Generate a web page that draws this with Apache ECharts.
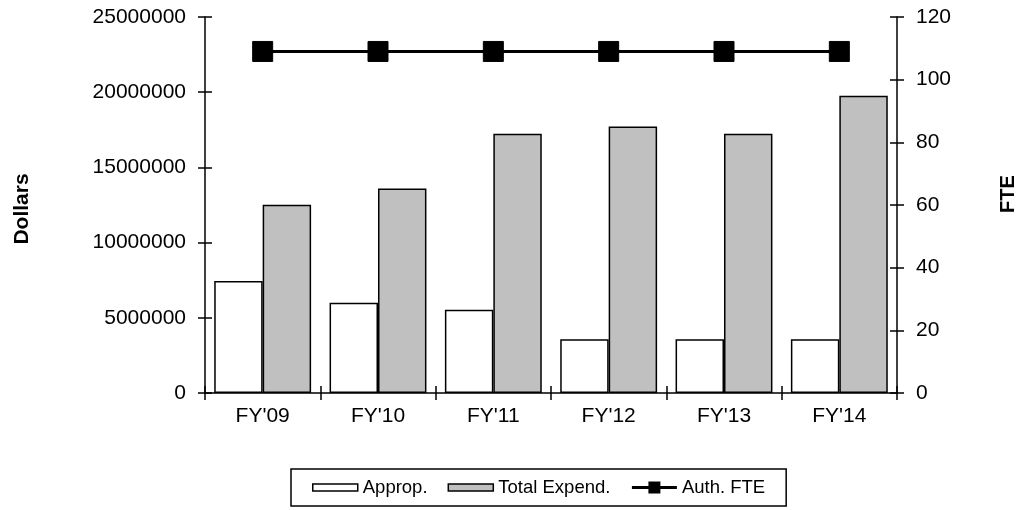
<!DOCTYPE html>
<html>
<head>
<meta charset="utf-8">
<script src="https://cdn.jsdelivr.net/npm/echarts@6/dist/echarts.min.js"></script>
<style>
html,body{margin:0;padding:0;background:#fff;}
#chart{width:1021px;height:510px;}
</style>
</head>
<body>
<div id="chart"></div>
<script>
const categories = ["FY'09", "FY'10", "FY'11", "FY'12", "FY'13", "FY'14"];
const approp = [7450000, 6000000, 5530000, 3580000, 3580000, 3580000];
const totalExpend = [12520000, 13600000, 17230000, 17720000, 17230000, 19770000];
const authFTE = [109, 109, 109, 109, 109, 109];
const dollarAxis = {min: 0, max: 25000000, interval: 5000000};
const fteAxis = {min: 0, max: 120, interval: 20};

const FONT = 'Liberation Sans, Arial, sans-serif';
const chart = echarts.init(document.getElementById('chart'), null, {renderer: 'canvas'});

const grid = {left: 205, right: 124, top: 17, bottom: 117};
const barIcon = 'path://M0,0M0,4h45v7h-45zM45,15';

const tickOut = {show: true, inside: false, length: 7, lineStyle: {color: '#000', width: 1.5}};
const tickIn = {show: true, inside: true, length: 7, lineStyle: {color: '#000', width: 1.5}};

chart.setOption({
  backgroundColor: '#fff',
  animation: false,
  grid: grid,
  legend: {
    left: 291, top: 469,
    padding: [9, 21, 9, 21],
    itemGap: 20,
    itemWidth: 45, itemHeight: 15,
    borderColor: '#000', borderWidth: 1.5,
    textStyle: {fontFamily: FONT, fontSize: 18.5, color: '#000'},
    data: [
      {name: 'Approp.', icon: barIcon, itemStyle: {color: '#fff', borderColor: '#000', borderWidth: 1.5}},
      {name: 'Total Expend.', icon: barIcon, itemStyle: {color: '#c0c0c0', borderColor: '#000', borderWidth: 1.5}},
      {name: 'Auth. FTE', lineStyle: {color: '#000', width: 3}}
    ]
  },
  xAxis: [{
    type: 'category', data: categories, position: 'bottom',
    axisLine: {show: true, lineStyle: {color: '#000', width: 1.5}},
    axisTick: tickOut,
    axisLabel: {fontFamily: FONT, fontSize: 21, color: '#000', margin: 13},
    splitLine: {show: false}
  }, {
    type: 'category', data: categories, position: 'bottom',
    axisLine: {show: false}, axisTick: tickIn, axisLabel: {show: false}, splitLine: {show: false}
  }],
  yAxis: [{
    type: 'value', position: 'left', min: dollarAxis.min, max: dollarAxis.max, interval: dollarAxis.interval,
    axisLine: {show: true, lineStyle: {color: '#000', width: 1.5}},
    axisTick: tickOut,
    axisLabel: {fontFamily: FONT, fontSize: 21, color: '#000', margin: 19, formatter: v => String(v)},
    splitLine: {show: false}
  }, {
    type: 'value', position: 'right', min: fteAxis.min, max: fteAxis.max, interval: fteAxis.interval,
    axisLine: {show: true, lineStyle: {color: '#000', width: 1.5}},
    axisTick: tickOut,
    axisLabel: {fontFamily: FONT, fontSize: 21, color: '#000', margin: 19, formatter: v => String(v)},
    splitLine: {show: false}
  }, {
    type: 'value', position: 'left', min: dollarAxis.min, max: dollarAxis.max, interval: dollarAxis.interval,
    axisLine: {show: false}, axisTick: tickIn, axisLabel: {show: false}, splitLine: {show: false}
  }, {
    type: 'value', position: 'right', min: fteAxis.min, max: fteAxis.max, interval: fteAxis.interval,
    axisLine: {show: false}, axisTick: tickIn, axisLabel: {show: false}, splitLine: {show: false}
  }],
  series: [{
    name: 'Approp.', type: 'bar', data: approp, xAxisIndex: 0, yAxisIndex: 0,
    barGap: '0%', barCategoryGap: '16%',
    itemStyle: {color: '#fff', borderColor: '#000', borderWidth: 1.5}
  }, {
    name: 'Total Expend.', type: 'bar', data: totalExpend, xAxisIndex: 0, yAxisIndex: 0,
    barGap: '0%', barCategoryGap: '16%',
    itemStyle: {color: '#c0c0c0', borderColor: '#000', borderWidth: 1.5}
  }, {
    name: 'Auth. FTE', type: 'line', data: authFTE, xAxisIndex: 0, yAxisIndex: 1,
    symbol: 'rect', symbolSize: 20, showSymbol: true,
    lineStyle: {color: '#000', width: 3},
    itemStyle: {color: '#000', borderColor: '#000'},
    z: 5
  }],
  graphic: [{
    type: 'text', x: 22, y: 209, rotation: Math.PI / 2,
    style: {text: 'Dollars', font: 'bold 21px ' + FONT, fill: '#000', align: 'center', verticalAlign: 'middle'}
  }, {
    type: 'text', x: 1008, y: 194, rotation: Math.PI / 2,
    style: {text: 'FTE', font: 'bold 20px ' + FONT, fill: '#000', align: 'center', verticalAlign: 'middle'}
  }]
});
</script>
</body>
</html>
